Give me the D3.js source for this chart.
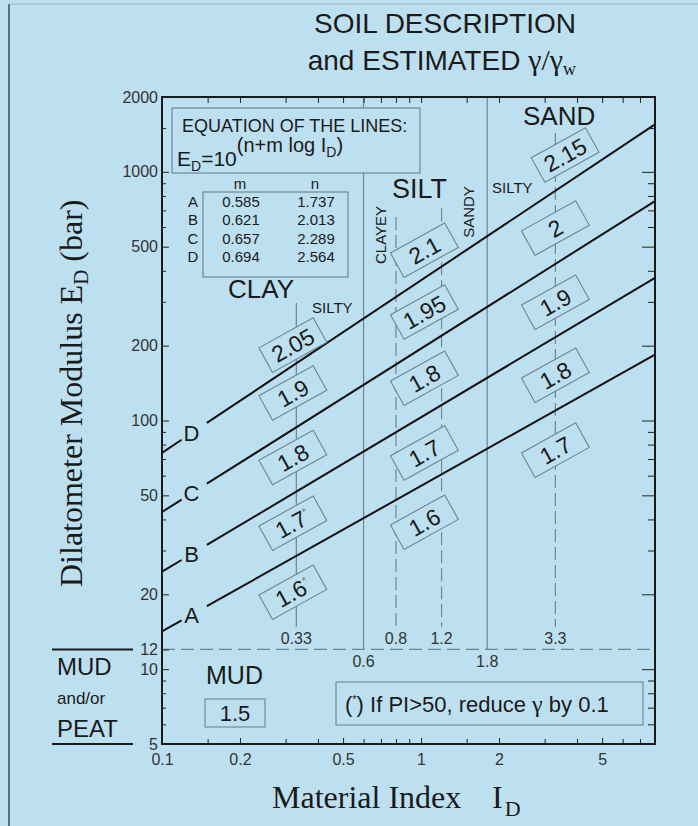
<!DOCTYPE html>
<html>
<head>
<meta charset="utf-8">
<script src="https://cdn.jsdelivr.net/npm/d3@7"></script>
<style>
  body { margin: 0; background: #bde0f0; }
  svg { display: block; }
  .sans { font-family: "Liberation Sans", Arial, sans-serif; }
  .serif { font-family: "Liberation Serif", "Times New Roman", serif; }
</style>
</head>
<body>
<svg id="chart" width="698" height="826"></svg>
<script>
// E_D = 10^(n + m log I_D)
const lineNames = ["A", "B", "C", "D"];
const mCoef = [0.585, 0.621, 0.657, 0.694];
const nCoef = [1.737, 2.013, 2.289, 2.564];

// axes
const xTickLabels = [0.1, 0.2, 0.5, 1, 2, 5];
const xMinorTicks = [0.15, 0.3, 0.4, 0.6, 0.7, 0.8, 0.9, 1.5, 3, 4, 6, 7];
const yTickLabels = [2000, 1000, 500, 200, 100, 50, 20, 12, 10, 5];
const yMajorTicks = [10, 20, 50, 100, 200, 500, 1000];
const yMinorTicks = [6, 7, 8, 9, 30, 40, 60, 70, 80, 90, 300, 400, 600, 700, 800, 900, 1500];

// soil boundaries (I_D)
const mainBounds = [0.6, 1.8];
const mainBoundLabels = ["0.6", "1.8"];
const subBounds = [0.33, 0.8, 1.2, 3.3];
const subBoundTops = [297, 658, 714, 1432];   // E_D where each sub-boundary starts
const subBoundDashed = [false, true, true, true];
const mudLimit = 12;

// gamma/gamma_w boxes
const clayId = 0.32;
const clayGamma = ["2.05", "1.9", "1.8", "1.7", "1.6"];
const clayEd = [201, 129, 71, 38.6, 20.4];
const clayStar = [false, false, false, true, true];
const siltId = 1.03;
const siltGamma = ["2.1", "1.95", "1.8", "1.7", "1.6"];
const siltEd = [484, 273, 148, 74, 39];
const sandIds = [3.6, 3.3, 3.3, 3.3, 3.3];
const sandGamma = ["2.15", "2", "1.9", "1.8", "1.7"];
const sandEd = [1169, 594, 299, 152, 76];

const svg = d3.select("#chart");
const W = 698, H = 826;
const bg = "#bde0f0";
const grey = "#6f8590";

svg.append("rect").attr("width", W).attr("height", H).attr("fill", bg);
svg.append("line").attr("x1", 9).attr("x2", 9).attr("y1", 4).attr("y2", H)
  .attr("stroke", "#3a4a52").attr("stroke-width", 1.5);
svg.append("line").attr("x1", 9).attr("x2", W).attr("y1", 4).attr("y2", 4)
  .attr("stroke", "#9fb8c4").attr("stroke-width", 1);

const x = d3.scaleLog().domain([0.1, 8]).range([162, 655]);
const y = d3.scaleLog().domain([5, 2000]).range([744, 97]);
const x0 = x.range()[0], x1 = x.range()[1];
const y0 = y.range()[0], y1 = y.range()[1];

// title
const title = svg.append("g").attr("class", "sans").attr("fill", "#1a1a1a");
title.append("text").attr("x", 576).attr("y", 33).attr("text-anchor", "end")
  .attr("font-size", 28).text("SOIL DESCRIPTION");
const t2 = title.append("text").attr("x", 576).attr("y", 70).attr("text-anchor", "end")
  .attr("font-size", 28);
t2.append("tspan").text("and ESTIMATED  ");
t2.append("tspan").attr("class", "serif").attr("font-size", 30).text("γ/γ");
t2.append("tspan").attr("class", "serif").attr("font-size", 18).attr("dy", 5).text("w");

// boundaries
const bounds = svg.append("g");
mainBounds.forEach((b, i) => {
  bounds.append("line")
    .attr("x1", x(b)).attr("x2", x(b))
    .attr("y1", y1).attr("y2", y(mudLimit))
    .attr("stroke", grey).attr("stroke-width", 1.2);
  bounds.append("text").attr("class", "sans")
    .attr("x", x(b)).attr("y", y(mudLimit) + 18)
    .attr("text-anchor", "middle").attr("font-size", 16).attr("fill", "#333")
    .text(mainBoundLabels[i]);
});
subBounds.forEach((b, i) => {
  bounds.append("line")
    .attr("x1", x(b)).attr("x2", x(b))
    .attr("y1", y(subBoundTops[i])).attr("y2", y(14.8))
    .attr("stroke", grey).attr("stroke-width", 1.2)
    .attr("stroke-dasharray", subBoundDashed[i] ? "13 5" : null);
  bounds.append("text").attr("class", "sans")
    .attr("x", x(b)).attr("y", y(14.8) + 17)
    .attr("text-anchor", "middle").attr("font-size", 16).attr("fill", "#333")
    .text(b);
});
bounds.append("line")
  .attr("x1", x0).attr("x2", x1).attr("y1", y(mudLimit)).attr("y2", y(mudLimit))
  .attr("stroke", grey).attr("stroke-width", 1.2).attr("stroke-dasharray", "13 6");

// equation box
const eq = svg.append("g").attr("class", "sans").attr("fill", "#1a1a1a");
eq.append("rect").attr("x", 172).attr("y", 108).attr("width", 248).attr("height", 65)
  .attr("fill", bg).attr("stroke", grey).attr("stroke-width", 1.2);
eq.append("text").attr("x", 182).attr("y", 132).attr("font-size", 18)
  .text("EQUATION OF THE LINES:");
const eqT = eq.append("text").attr("x", 177).attr("y", 166).attr("font-size", 21);
eqT.append("tspan").text("E");
eqT.append("tspan").attr("font-size", 14).attr("dy", 5).text("D");
eqT.append("tspan").attr("dy", -5).text("=10");
eqT.append("tspan").attr("font-size", 20).attr("dy", -14).text("(n+m  log  I");
eqT.append("tspan").attr("font-size", 14).attr("dy", 5).text("D");
eqT.append("tspan").attr("font-size", 20).attr("dy", -5).text(")");

// coefficient table
eq.append("rect").attr("x", 203).attr("y", 192).attr("width", 145).attr("height", 85)
  .attr("fill", "none").attr("stroke", grey).attr("stroke-width", 1.2);
eq.append("text").attr("x", 240).attr("y", 189).attr("text-anchor", "middle")
  .attr("font-size", 15).text("m");
eq.append("text").attr("x", 315).attr("y", 189).attr("text-anchor", "middle")
  .attr("font-size", 15).text("n");
lineNames.forEach((nm, i) => {
  const ty = 207 + i * 18.3;
  eq.append("text").attr("x", 193).attr("y", ty).attr("text-anchor", "middle")
    .attr("font-size", 15).text(nm);
  eq.append("text").attr("x", 241).attr("y", ty).attr("text-anchor", "middle")
    .attr("font-size", 15).text(mCoef[i].toFixed(3));
  eq.append("text").attr("x", 316).attr("y", ty).attr("text-anchor", "middle")
    .attr("font-size", 15).text(nCoef[i].toFixed(3));
});

// soil type labels
const labels = svg.append("g").attr("class", "sans").attr("fill", "#1a1a1a");
labels.append("text").attr("x", 228).attr("y", 298).attr("font-size", 26).text("CLAY");
labels.append("text").attr("x", 312).attr("y", 313).attr("font-size", 15).text("SILTY");
labels.append("text").attr("x", 392).attr("y", 198).attr("font-size", 27).text("SILT");
labels.append("text").attr("x", 523).attr("y", 125).attr("font-size", 26).text("SAND");
labels.append("text").attr("x", 492).attr("y", 193).attr("font-size", 15).text("SILTY");
labels.append("text").attr("font-size", 15).attr("text-anchor", "middle")
  .attr("transform", "translate(386,235) rotate(-90)").text("CLAYEY");
labels.append("text").attr("font-size", 15).attr("text-anchor", "middle")
  .attr("transform", "translate(474,212) rotate(-90)").text("SANDY");

// correlation lines with letter gaps
const lineGen = d3.line().x(d => x(d[0])).y(d => y(d[1]));
const ed = (i, id) => Math.pow(10, nCoef[i] + mCoef[i] * Math.log10(id));
const stubEnd = 0.119, resume = 0.149, letterId = 0.13;
const lines = svg.append("g");
lineNames.forEach((nm, i) => {
  [[0.1, stubEnd], [resume, 8]].forEach(seg => {
    lines.append("path")
      .attr("d", lineGen(seg.map(id => [id, ed(i, id)])))
      .attr("fill", "none").attr("stroke", "#111").attr("stroke-width", 2);
  });
  lines.append("text").attr("class", "sans")
    .attr("x", x(letterId)).attr("y", y(ed(i, letterId)))
    .attr("dy", "0.36em").attr("text-anchor", "middle")
    .attr("font-size", 22).attr("fill", "#1a1a1a").text(nm);
});

// gamma boxes
const boxes = [];
clayGamma.forEach((g, i) => boxes.push({ id: clayId, ed: clayEd[i], label: g, star: clayStar[i] }));
siltGamma.forEach((g, i) => boxes.push({ id: siltId, ed: siltEd[i], label: g, star: false }));
sandGamma.forEach((g, i) => boxes.push({ id: sandIds[i], ed: sandEd[i], label: g, star: false }));

const bx = svg.append("g").selectAll("g").data(boxes).join("g")
  .attr("transform", d => `translate(${x(d.id)},${y(d.ed)}) rotate(-29)`);
bx.append("rect").attr("x", -31).attr("y", -14).attr("width", 62).attr("height", 28)
  .attr("fill", bg).attr("stroke", grey).attr("stroke-width", 1.1);
const bt = bx.append("text").attr("class", "sans").attr("text-anchor", "middle")
  .attr("dy", "0.36em").attr("font-size", 23).attr("fill", "#1a1a1a");
bt.append("tspan").text(d => d.label);
bt.filter(d => d.star).append("tspan").attr("font-size", 11).attr("dy", -9)
  .attr("fill", "#777").text("*");

// frame + axes
const axes = svg.append("g").attr("class", "sans");
function styleAxis(g) {
  g.select(".domain").remove();
  g.selectAll(".tick line").attr("stroke", "#222");
  g.selectAll(".tick text").attr("font-size", 16).attr("fill", "#333")
    .attr("font-family", "Liberation Sans, Arial, sans-serif");
}
axes.append("g").attr("transform", `translate(0,${y0})`)
  .call(d3.axisBottom(x).tickValues(xTickLabels).tickFormat(d3.format("")).tickSize(-6).tickPadding(10))
  .call(styleAxis);
axes.append("g").attr("transform", `translate(0,${y0})`)
  .call(d3.axisBottom(x).tickValues(xMinorTicks).tickFormat("").tickSize(-5))
  .call(styleAxis);
axes.append("g").attr("transform", `translate(0,${y1})`)
  .call(d3.axisTop(x).tickValues(xTickLabels.concat(xMinorTicks)).tickFormat("").tickSize(-6))
  .call(styleAxis);
axes.append("g").attr("transform", `translate(${x0},0)`)
  .call(d3.axisLeft(y).tickValues(yTickLabels).tickFormat(d3.format("")).tickSize(-7).tickPadding(4))
  .call(styleAxis);
axes.append("g").attr("transform", `translate(${x0},0)`)
  .call(d3.axisLeft(y).tickValues(yMinorTicks).tickFormat("").tickSize(-4))
  .call(styleAxis);
axes.append("g").attr("transform", `translate(${x1},0)`)
  .call(d3.axisRight(y).tickValues(yMajorTicks).tickFormat("").tickSize(-13))
  .call(styleAxis);
axes.append("g").attr("transform", `translate(${x1},0)`)
  .call(d3.axisRight(y).tickValues(yMinorTicks).tickFormat("").tickSize(-7))
  .call(styleAxis);
axes.append("rect").attr("x", x0).attr("y", y1).attr("width", x1 - x0).attr("height", y0 - y1)
  .attr("fill", "none").attr("stroke", "#1a1a1a").attr("stroke-width", 2);

// mud / peat zone
const mud = svg.append("g").attr("class", "sans").attr("fill", "#1a1a1a");
[mudLimit, 5].forEach(v => {
  mud.append("line").attr("x1", 52).attr("x2", 133).attr("y1", y(v)).attr("y2", y(v))
    .attr("stroke", "#1a1a1a").attr("stroke-width", 2);
});
mud.append("text").attr("x", 57).attr("y", 675).attr("font-size", 24).text("MUD");
mud.append("text").attr("x", 57).attr("y", 704).attr("font-size", 17).text("and/or");
mud.append("text").attr("x", 57).attr("y", 737).attr("font-size", 24).text("PEAT");
mud.append("text").attr("x", 206).attr("y", 684).attr("font-size", 25).text("MUD");
mud.append("rect").attr("x", 205).attr("y", 699).attr("width", 60).attr("height", 28)
  .attr("fill", "none").attr("stroke", grey).attr("stroke-width", 1.1);
mud.append("text").attr("x", 235).attr("y", 721).attr("text-anchor", "middle")
  .attr("font-size", 22).text("1.5");

// note box
mud.append("rect").attr("x", 336).attr("y", 682).attr("width", 307).attr("height", 43)
  .attr("fill", "none").attr("stroke", grey).attr("stroke-width", 1.1);
const note = mud.append("text").attr("x", 345).attr("y", 712).attr("font-size", 22);
note.append("tspan").text("(");
note.append("tspan").attr("font-size", 11).attr("dy", -9).text("*");
note.append("tspan").attr("dy", 9).text(") If PI>50, reduce  ");
note.append("tspan").attr("class", "serif").attr("font-size", 24).text("γ");
note.append("tspan").text("  by 0.1");

// axis titles
const yl = svg.append("text").attr("class", "serif").attr("font-size", 32).attr("fill", "#1a1a1a")
  .attr("transform", "translate(82,587) rotate(-90)");
yl.append("tspan").text("Dilatometer Modulus  E");
yl.append("tspan").attr("font-size", 21).attr("dy", 6).text("D");
yl.append("tspan").attr("dy", -6).text(" (bar)");

const xl = svg.append("text").attr("class", "serif").attr("font-size", 32).attr("fill", "#1a1a1a")
  .attr("x", 272).attr("y", 808);
xl.append("tspan").text("Material Index");
xl.append("tspan").attr("x", 492).text("I");
xl.append("tspan").attr("font-size", 22).attr("dy", 8).attr("dx", 2).text("D");
</script>
</body>
</html>
